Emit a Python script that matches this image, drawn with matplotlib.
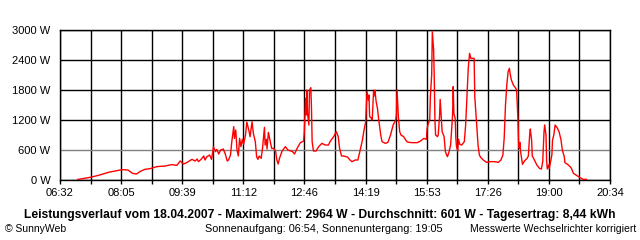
import matplotlib
matplotlib.use("Agg")
import matplotlib.pyplot as plt
import numpy as np

# Leistung (W) ueber die Uhrzeit
times = ["06:59", "07:18", "07:31", "07:46", "08:01", "08:07", "08:16", "08:23", "08:29", "08:35",
         "08:42", "08:50", "09:00", "09:13", "09:23", "09:31", "09:36", "09:41", "09:46", "09:54",
         "09:59", "10:02", "10:04", "10:08", "10:12", "10:14", "10:17", "10:21", "10:24", "10:27",
         "10:30", "10:32", "10:35", "10:38", "10:42", "10:45", "10:48", "10:50", "10:53", "10:55",
         "10:58", "10:59", "11:01", "11:03", "11:05", "11:07", "11:09", "11:11", "11:13", "11:16",
         "11:18", "11:21", "11:23", "11:26", "11:28", "11:31", "11:33", "11:35", "11:37", "11:40",
         "11:42", "11:45", "11:46", "11:48", "11:49", "11:51", "11:54", "11:56", "11:59", "12:02",
         "12:04", "12:06", "12:08", "12:12", "12:17", "12:21", "12:25", "12:28", "12:31", "12:35",
         "12:40", "12:45", "12:46", "12:48", "12:49", "12:50", "12:51", "12:53", "12:54", "12:56",
         "12:57", "12:58", "13:00", "13:04", "13:08", "13:13", "13:18", "13:23", "13:26", "13:31",
         "13:35", "13:38", "13:40", "13:43", "13:46", "13:52", "13:56", "13:59", "14:04", "14:08",
         "14:11", "14:15", "14:17", "14:20", "14:22", "14:24", "14:25", "14:26", "14:29", "14:30",
         "14:32", "14:33", "14:34", "14:36", "14:38", "14:40", "14:43", "14:45", "14:50", "14:54",
         "14:58", "15:02", "15:06", "15:07", "15:08", "15:10", "15:12", "15:14", "15:18", "15:23",
         "15:26", "15:31", "15:39", "15:44", "15:49", "15:53", "15:54", "15:56", "15:58", "15:59",
         "16:01", "16:02", "16:04", "16:05", "16:06", "16:07", "16:10", "16:11", "16:13", "16:14",
         "16:16", "16:17", "16:20", "16:22", "16:25", "16:27", "16:30", "16:33", "16:34", "16:35",
         "16:37", "16:38", "16:39", "16:41", "16:42", "16:44", "16:47", "16:51", "16:53", "16:56",
         "16:57", "16:59", "17:01", "17:03", "17:06", "17:07", "17:10", "17:12", "17:14", "17:16",
         "17:20", "17:25", "17:30", "17:37", "17:43", "17:47", "17:50", "17:52", "17:54", "17:56",
         "17:58", "18:00", "18:01", "18:03", "18:06", "18:09", "18:11", "18:13", "18:14", "18:15",
         "18:16", "18:17", "18:20", "18:23", "18:27", "18:29", "18:31", "18:32", "18:34", "18:35",
         "18:37", "18:39", "18:42", "18:46", "18:49", "18:51", "18:53", "18:54", "18:56", "18:57",
         "18:58", "19:00", "19:01", "19:03", "19:05", "19:06", "19:08", "19:10", "19:13", "19:16",
         "19:19", "19:21", "19:24", "19:25", "19:29", "19:33", "19:35", "19:38", "19:42", "19:46",
         "19:49", "19:53", "19:58"]
watts = [10, 53, 93, 153, 193, 207, 200, 133, 120, 173,
         213, 227, 267, 280, 307, 293, 380, 320, 347, 413,
         380, 420, 367, 413, 480, 400, 467, 500, 413, 667,
         567, 613, 520, 600, 620, 520, 380, 400, 500, 767,
         1067, 833, 1000, 600, 480, 833, 667, 813, 713, 900,
         1160, 1000, 867, 1167, 933, 767, 467, 413, 480, 433,
         633, 1053, 700, 813, 620, 953, 767, 633, 633, 580,
         400, 320, 433, 580, 667, 600, 580, 567, 520, 633,
         747, 780, 953, 1633, 1300, 1800, 1333, 1100, 1800, 1847,
         1433, 767, 580, 580, 667, 733, 700, 700, 780, 867,
         967, 867, 633, 480, 480, 460, 400, 367, 400, 400,
         567, 800, 967, 1167, 1767, 1600, 1700, 1267, 1233, 1200,
         1767, 1680, 1800, 1567, 1433, 1200, 900, 767, 733, 753,
         900, 1100, 1200, 1300, 1800, 1267, 967, 900, 867, 767,
         753, 747, 747, 780, 833, 813, 1033, 1133, 1200, 1667,
         2100, 2964, 2600, 2000, 1200, 900, 867, 900, 1267, 1613,
         1200, 967, 867, 566, 467, 533, 700, 1300, 1867, 1333,
         1233, 833, 667, 580, 820, 713, 700, 767, 1100, 1967,
         2233, 2533, 2433, 2433, 2433, 1667, 1100, 700, 500, 453,
         400, 353, 367, 367, 353, 400, 500, 833, 1500, 1900,
         2167, 2233, 2133, 2000, 1900, 1847, 1800, 1233, 767, 633,
         753, 580, 313, 380, 433, 480, 900, 1020, 800, 480,
         433, 380, 300, 233, 220, 367, 967, 1100, 900, 380,
         220, 300, 233, 367, 500, 800, 900, 1100, 1047, 967,
         800, 600, 467, 347, 313, 267, 233, 133, 100, 67,
         40, 13, 13]

xlabels = ["06:32", "08:05", "09:39", "11:12", "12:46", "14:19", "15:53", "17:26", "19:00", "20:34"]
ylevels = [0, 600, 1200, 1800, 2400, 3000]

def to_min(s):
    h, m = s.split(":")
    return int(h) * 60 + int(m)

t = np.array([to_min(s) for s in times])
w = np.array(watts)

plt.rcParams['font.family'] = ['Liberation Sans', 'DejaVu Sans']

fig = plt.figure(figsize=(6.4, 2.4), dpi=100)
ax = fig.add_axes([60 / 640, 60 / 240, 550 / 640, 150 / 240])

t0 = to_min(xlabels[0])
t1 = to_min(xlabels[-1])
xt = np.linspace(t0, t1, 19)

for x in xt:
    ax.axvline(x, color='black', lw=1.0, zorder=1)
for y in ylevels:
    ax.axhline(y, color='#808080' if y == 600 else 'black', lw=1.0, zorder=1)

ax.plot(t, w, color='red', lw=1.0, zorder=3)

ax.set_xlim(t0, t1)
ax.set_ylim(0, 3000)
ax.set_xticks(xt)
ax.set_xticklabels([xlabels[i // 2] if i % 2 == 0 else "" for i in range(19)])
ax.set_yticks(ylevels)
ax.set_yticklabels([f"{y} W" for y in ylevels])
ax.tick_params(axis='x', direction='out', length=3, width=1, pad=3, labelsize=8)
ax.tick_params(axis='y', length=0, pad=7, labelsize=8)
for s in ax.spines.values():
    s.set_linewidth(1.0)

fig.text(0.5, 25 / 240,
         "Leistungsverlauf vom 18.04.2007 - Maximalwert: 2964 W - Durchschnitt: 601 W - Tagesertrag: 8,44 kWh",
         ha='center', va='center', fontsize=8.7, fontweight='bold')
fig.text(5 / 640, 11 / 240, "© SunnyWeb", ha='left', va='center', fontsize=7.5)
fig.text(205 / 640, 11 / 240, "Sonnenaufgang: 06:54, Sonnenuntergang: 19:05", ha='left', va='center', fontsize=7.8)
fig.text(636 / 640, 11 / 240, "Messwerte Wechselrichter korrigiert", ha='right', va='center', fontsize=7.5)

fig.savefig("out.png", dpi=100)
